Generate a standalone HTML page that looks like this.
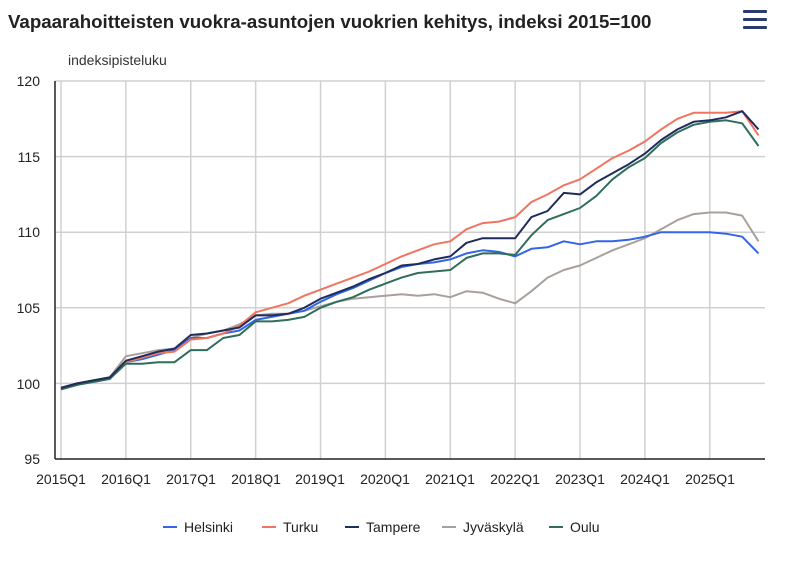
<!DOCTYPE html>
<html><head><meta charset="utf-8"><style>
body{margin:0;background:#fff;width:800px;height:561px;overflow:hidden;font-family:"Liberation Sans",sans-serif}
</style></head><body>
<svg id="s" width="800" height="561" xmlns="http://www.w3.org/2000/svg" font-family="Liberation Sans, sans-serif">
<text x="8" y="28" font-size="18.7" font-weight="bold" fill="#222">Vapaarahoitteisten vuokra-asuntojen vuokrien kehitys, indeksi 2015=100</text>
<g fill="#2a3a6e"><rect x="743" y="10" width="24" height="3" rx="1"/><rect x="743" y="18" width="24" height="3" rx="1"/><rect x="743" y="26" width="24" height="3" rx="1"/></g>
<text x="68" y="65" font-size="14" fill="#333">indeksipisteluku</text>
<g id="grid" stroke="#d0d0d0" stroke-width="1.5"></g>
<line x1="55" y1="81" x2="55" y2="459" stroke="#222" stroke-width="1.5"/>
<line x1="55" y1="459" x2="765" y2="459" stroke="#222" stroke-width="1.5"/>
<g font-size="14" fill="#222" text-anchor="end">
<text x="40" y="86">120</text><text x="40" y="162">115</text><text x="40" y="237">110</text><text x="40" y="313">105</text><text x="40" y="389">100</text><text x="40" y="464">95</text></g>
<g font-size="14" fill="#222" text-anchor="middle">
<text x="61" y="484">2015Q1</text><text x="126" y="484">2016Q1</text><text x="191" y="484">2017Q1</text><text x="256" y="484">2018Q1</text><text x="320" y="484">2019Q1</text><text x="385" y="484">2020Q1</text><text x="450" y="484">2021Q1</text><text x="515" y="484">2022Q1</text><text x="580" y="484">2023Q1</text><text x="645" y="484">2024Q1</text><text x="710" y="484">2025Q1</text></g>
<g id="lines" fill="none" stroke-width="2" stroke-linejoin="round"></g>
<g font-size="14" fill="#222">
<line x1="163" y1="527" x2="177" y2="527" stroke="#3366e6" stroke-width="2"/><text x="184" y="532">Helsinki</text>
<line x1="262" y1="527" x2="276" y2="527" stroke="#f07560" stroke-width="2"/><text x="283" y="532">Turku</text>
<line x1="345" y1="527" x2="359" y2="527" stroke="#1f2d5c" stroke-width="2"/><text x="366" y="532">Tampere</text>
<line x1="442" y1="527" x2="456" y2="527" stroke="#a8a09b" stroke-width="2"/><text x="463" y="532">Jyväskylä</text>
<line x1="549" y1="527" x2="563" y2="527" stroke="#2f6e5a" stroke-width="2"/><text x="570" y="532">Oulu</text>
</g>
</svg>
<script>
var ns="http://www.w3.org/2000/svg";
function X(i){return 61+i*16.22}function Y(v){return 81+(120-v)*15.12}
var g=document.getElementById('grid');
for(var k=0;k<11;k++){var l=document.createElementNS(ns,'line');l.setAttribute('x1',X(k*4));l.setAttribute('x2',X(k*4));l.setAttribute('y1',81);l.setAttribute('y2',459);g.appendChild(l);}
for(var v=100;v<=120;v+=5){var l=document.createElementNS(ns,'line');l.setAttribute('x1',55);l.setAttribute('x2',765);l.setAttribute('y1',Y(v));l.setAttribute('y2',Y(v));g.appendChild(l);}
var d={
"#a8a09b":[99.7,100,100.2,100.4,101.8,102.0,102.2,102.3,103.0,103.3,103.5,103.9,104.5,104.6,104.6,104.8,105.1,105.4,105.6,105.7,105.8,105.9,105.8,105.9,105.7,106.1,106.0,105.6,105.3,106.1,107.0,107.5,107.8,108.3,108.8,109.2,109.6,110.2,110.8,111.2,111.3,111.3,111.1,109.4],
"#3366e6":[99.7,100,100.1,100.3,101.4,101.6,101.9,102.2,103.0,103.0,103.3,103.5,104.2,104.4,104.6,104.8,105.4,105.9,106.3,106.8,107.3,107.7,107.9,108.0,108.2,108.6,108.8,108.7,108.4,108.9,109.0,109.4,109.2,109.4,109.4,109.5,109.7,110,110,110,110,109.9,109.7,108.6],
"#f07560":[99.7,100,100.2,100.4,101.4,101.7,102.0,102.1,102.9,103.0,103.3,103.8,104.7,105.0,105.3,105.8,106.2,106.6,107.0,107.4,107.9,108.4,108.8,109.2,109.4,110.2,110.6,110.7,111.0,112.0,112.5,113.1,113.5,114.2,114.9,115.4,116.0,116.8,117.5,117.9,117.9,117.9,118.0,116.4],
"#2f6e5a":[99.6,99.9,100.1,100.3,101.3,101.3,101.4,101.4,102.2,102.2,103.0,103.2,104.1,104.1,104.2,104.4,105.0,105.4,105.7,106.2,106.6,107.0,107.3,107.4,107.5,108.3,108.6,108.6,108.5,109.8,110.8,111.2,111.6,112.4,113.5,114.3,114.9,115.9,116.6,117.1,117.3,117.4,117.2,115.7],
"#1f2d5c":[99.7,100,100.2,100.4,101.5,101.8,102.1,102.3,103.2,103.3,103.5,103.7,104.5,104.5,104.6,105.0,105.6,106.0,106.4,106.9,107.3,107.8,107.9,108.2,108.4,109.3,109.6,109.6,109.6,111.0,111.4,112.6,112.5,113.3,113.9,114.5,115.2,116.1,116.8,117.3,117.4,117.6,118.0,116.8]};
var L=document.getElementById('lines');
for(var c in d){var p=document.createElementNS(ns,'polyline');p.setAttribute('stroke',c);p.setAttribute('points',d[c].map(function(v,i){return X(i).toFixed(1)+','+Y(v).toFixed(1)}).join(' '));L.appendChild(p);}
</script>
</body></html>
